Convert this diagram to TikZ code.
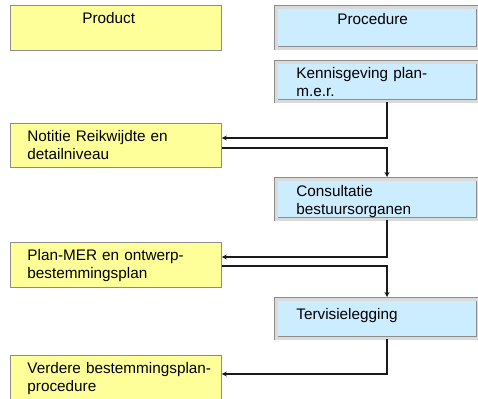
\documentclass[tikz,border=0pt]{standalone}
\usepackage{fontspec}
\setmainfont{Liberation Sans}
\usetikzlibrary{arrows.meta}
\definecolor{ylw}{HTML}{FFFF99}
\definecolor{blu}{HTML}{CCECFF}
\definecolor{bdr}{HTML}{8C8C8C}
\definecolor{band}{HTML}{DADADA}
\definecolor{lin}{HTML}{1A1A1A}
\newcommand{\yind}{\hspace*{17pt}}
\newcommand{\bind}{\hspace*{20pt}}
\begin{document}
\begin{tikzpicture}[x=1pt,y=1pt,
  every node/.style={font=\fontsize{15.3}{18}\selectfont, text=black},
  ybox/.style={draw=bdr, line width=0.8pt, fill=ylw, anchor=north west,
    inner sep=0pt, text width=211pt, align=left},
  bbox/.style={draw=bdr, line width=0.7pt, double=band, double distance=2.4pt,
    fill=blu, anchor=north west, inner sep=0pt, text width=202pt, align=left},
  conn/.style={draw=lin, line width=1.4pt, -{Stealth[length=5pt,width=5pt]}}]
\useasboundingbox (0,0) rectangle (478,-398);
\clip (0,0) rectangle (478,-398);

% Product column
\node[ybox, text height=18pt, text depth=27pt] (prod) at (10,-5)
  {\hspace*{72pt}Product};
\node[ybox, text height=18pt, text depth=26pt] (not) at (10,-123)
  {\yind Notitie Reikwijdte en\\\yind detailniveau};
\node[ybox, text height=18pt, text depth=27pt] (plan) at (10,-242)
  {\yind Plan-MER en ontwerp-\\\yind bestemmingsplan};
\node[ybox, text height=18pt, text depth=32pt] (ver) at (10,-355)
  {\yind Verdere bestemmingsplan-\\\yind procedure};

% Procedure column
\node[bbox, text height=17pt, text depth=24pt] (proc) at (276,-7)
  {\hspace*{61pt}Procedure};
\node[bbox, text height=16pt, text depth=23pt] (ken) at (276,-62)
  {\bind Kennisgeving plan-\\\bind m.e.r.};
\node[bbox, text height=17pt, text depth=23pt] (con) at (276,-179)
  {\bind Consultatie\\\bind bestuursorganen};
\node[bbox, text height=20pt, text depth=19pt] (ter) at (276,-299)
  {\bind Tervisielegging};

% routing coordinates
\coordinate (cx) at (387,0);
\coordinate (y1) at (0,-138);
\coordinate (y2) at (0,-148);
\coordinate (y3) at (0,-257);
\coordinate (y4) at (0,-266);
\coordinate (y5) at (0,-374);

% connectors
\draw[conn] (ken.south -| cx) |- (not.east |- y1);
\draw[conn, shorten >=2pt] (not.east |- y2) -| (con.north -| cx);
\draw[conn] (con.south -| cx) |- (plan.east |- y3);
\draw[conn, shorten >=2pt] (plan.east |- y4) -| (ter.north -| cx);
\draw[conn] (ter.south -| cx) |- (ver.east |- y5);
\end{tikzpicture}
\end{document}
